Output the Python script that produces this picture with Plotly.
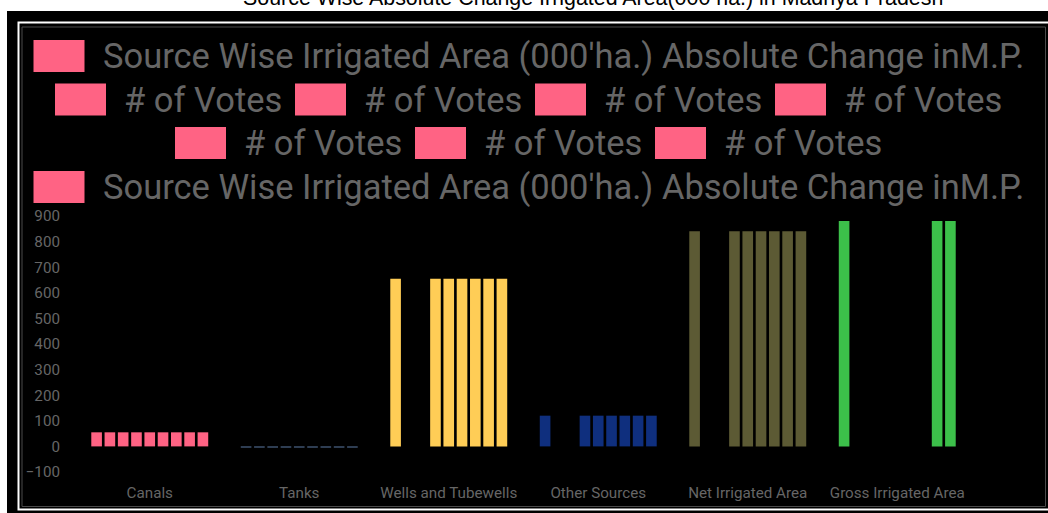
import plotly.graph_objects as go

# ---------------- data ----------------
categories = ["Canals", "Tanks", "Wells and Tubewells", "Other Sources",
              "Net Irrigated Area", "Gross Irrigated Area"]

long_name = "Source Wise Irrigated Area (000'ha.) Absolute Change inM.P."
series_names = [long_name] + ["# of Votes"] * 7 + [long_name]

s1 = [55, -6, 655, 120, 840, 880]
s2 = [55, -6, None, None, None, None]
s3 = [55, -6, None, None, None, None]
s4 = [55, -6, 655, 120, 840, None]
s5 = [55, -6, 655, 120, 840, None]
s6 = [55, -6, 655, 120, 840, None]
s7 = [55, -6, 655, 120, 840, None]
s8 = [55, -6, 655, 120, 840, 880]
s9 = [55, -6, 655, 120, 840, 880]
series_values = [s1, s2, s3, s4, s5, s6, s7, s8, s9]

category_colors = ["#FF6384", "#2E3D52", "#FFCD56", "#0F2F7E", "#5C5A34", "#3CC04A"]

y_ticks = [-100, 0, 100, 200, 300, 400, 500, 600, 700, 800, 900]

chart_title = "Source Wise Absolute Change Irrigated Area(000 ha.) in Madhya Pradesh"

# ---------------- layout helpers ----------------
W_PX, H_PX = 1048, 513
ML, MR, MT, MB = 75, 76, 216, 41
PW = W_PX - ML - MR
PH = H_PX - MT - MB


def px(x):
    return (x - ML) / PW


def py(y):
    return (H_PX - MB - y) / PH


fig = go.Figure()
for name, vals in zip(series_names, series_values):
    fig.add_trace(go.Bar(
        x=categories, y=vals, name=name,
        marker=dict(color=category_colors, line=dict(width=0)),
        showlegend=False,
    ))

shapes = []
# outer black frame
shapes.append(dict(type="rect", xref="paper", yref="paper", layer="below",
                   x0=px(7), x1=px(1070), y0=py(11), y1=py(530),
                   fillcolor="black", line=dict(width=0)))
# white outline
shapes.append(dict(type="rect", xref="paper", yref="paper", layer="below",
                   x0=px(18.5), x1=px(1060), y0=py(22.5), y1=py(509.5),
                   fillcolor="black", line=dict(color="white", width=2)))
# inner grey outline
shapes.append(dict(type="rect", xref="paper", yref="paper", layer="below",
                   x0=px(22), x1=px(1045.5), y0=py(27), y1=py(506.5),
                   fillcolor="black", line=dict(color="#4a4a4a", width=1)))

annotations = []
# custom legend (centred rows like the original)
legend_rows = [[0], [1, 2, 3, 4], [5, 6, 7], [8]]
row_centres_y = [56, 99.5, 143, 187]
box_w, box_h, txt_gap, item_gap = 51, 32, 19, 15
text_w = {long_name: 918, "# of Votes": 155}
legend_cx = 527.5
legend_font = dict(family="Roboto", size=34.5, color="#666666")

for row, cy in zip(legend_rows, row_centres_y):
    widths = [box_w + txt_gap + text_w[series_names[i]] for i in row]
    total = sum(widths) + item_gap * (len(row) - 1)
    x = legend_cx - total / 2
    for i, w in zip(row, widths):
        shapes.append(dict(type="rect", xref="paper", yref="paper",
                           x0=px(x), x1=px(x + box_w),
                           y0=py(cy - box_h / 2), y1=py(cy + box_h / 2),
                           fillcolor=category_colors[0], line=dict(width=0)))
        annotations.append(dict(text=series_names[i], xref="paper", yref="paper",
                                x=px(x + box_w + txt_gap - 3), y=py(cy),
                                xanchor="left", yanchor="middle", showarrow=False,
                                font=legend_font))
        x += w + item_gap

# chart title (cut off at the top as in the original)
annotations.append(dict(text=chart_title, xref="paper", yref="paper",
                        x=px(592.5), y=py(-2), xanchor="center", yanchor="middle",
                        showarrow=False,
                        font=dict(family="Liberation Sans, Arial", size=21.4, color="black")))

fig.update_layout(
    width=W_PX, height=H_PX, autosize=False,
    margin=dict(l=ML, r=MR, t=MT, b=MB, pad=0, autoexpand=False),
    paper_bgcolor="white",
    plot_bgcolor="rgba(0,0,0,0)",
    barmode="group", bargap=0.2, bargroupgap=0.2,
    shapes=shapes, annotations=annotations,
    showlegend=False,
    font=dict(family="Roboto", color="#666666"),
)
fig.update_xaxes(showgrid=False, zeroline=False, showline=False, automargin=False,
                 ticks="outside", ticklen=7, tickcolor="rgba(0,0,0,0)",
                 tickfont=dict(family="Roboto", size=15.2, color="#666666"))
fig.update_yaxes(range=[-100, 900], tickvals=y_ticks, showgrid=False,
                 zeroline=False, showline=False, automargin=False,
                 ticks="outside", ticklen=11, tickcolor="rgba(0,0,0,0)",
                 tickfont=dict(family="Roboto", size=15.2, color="#666666"))

fig.write_html("out.html",
               config={"responsive": False, "displayModeBar": False},
               post_script="document.body.style.margin='0';document.body.style.overflow='hidden';")
